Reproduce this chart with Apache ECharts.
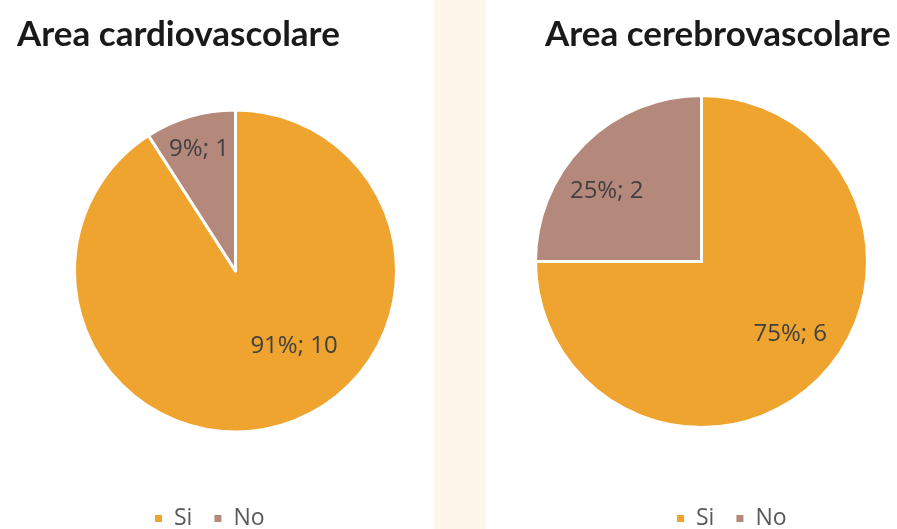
<!DOCTYPE html>
<html><head><meta charset="utf-8">
<script src="https://cdn.jsdelivr.net/npm/echarts@6/dist/echarts.min.js"></script>
<style>html,body{margin:0;padding:0;background:#fff}#c{width:897px;height:529px}</style>
</head><body><div id="c"></div>
<script>
const categories = ['Si', 'No'];
const titles = ['Area cardiovascolare', 'Area cerebrovascolare'];
const cardioValues = [10, 1];
const cerebroValues = [6, 2];
const cardioPct = [91, 9];
const cerebroPct = [75, 25];

const colors = ['#EFA42F', '#B4887B'];
const chart = echarts.init(document.getElementById('c'));

function mkData(vals, pcts) {
  return categories.map((n, i) => ({ name: n, value: vals[i], pct: pcts[i] }));
}
const labelShift = [
  [[35, -5], [-13, -42]],
  [[28, 12], [-34, -10]]
];
function pieSeries(idx, vals, pcts, center, radius) {
  return {
    type: 'pie',
    center: center,
    radius: radius,
    startAngle: 90,
    clockwise: true,
    data: mkData(vals, pcts),
    itemStyle: { borderColor: '#fff', borderWidth: 3 },
    label: {
      show: true, position: 'inside',
      formatter: p => p.data.pct + '%; ' + p.value,
      fontFamily: 'Open Sans', fontSize: 24, color: '#404040'
    },
    labelLayout: p => ({ dx: labelShift[idx][p.dataIndex][0], dy: labelShift[idx][p.dataIndex][1] }),
    emphasis: { disabled: true },
    animation: false
  };
}
const legendText = { fontFamily: 'Open Sans', fontSize: 23, color: '#595959', padding: [0, 0, 0, 6] };
chart.setOption({
  backgroundColor: '#fff',
  color: colors,
  graphic: [{ type: 'rect', shape: { x: 434, y: 0, width: 52, height: 529 }, style: { fill: '#FCF6EB' }, z: -10 }],
  title: [
    { text: titles[0], left: 12, top: 12, textStyle: { fontFamily: 'Lato', fontWeight: 'bold', fontSize: 35, color: '#1a1a1a' } },
    { text: titles[1], left: 540, top: 12, textStyle: { fontFamily: 'Lato', fontWeight: 'bold', fontSize: 35, color: '#1a1a1a' } }
  ],
  legend: [
    { data: categories, left: 148, top: 502, icon: 'rect', itemWidth: 9, itemHeight: 9, itemGap: 20, textStyle: legendText },
    { data: categories, left: 670, top: 502, icon: 'rect', itemWidth: 9, itemHeight: 9, itemGap: 20, textStyle: legendText }
  ],
  series: [
    pieSeries(0, cardioValues, cardioPct, [235.5, 271], 161),
    pieSeries(1, cerebroValues, cerebroPct, [701.5, 261.5], 166)
  ]
});
</script></body></html>
